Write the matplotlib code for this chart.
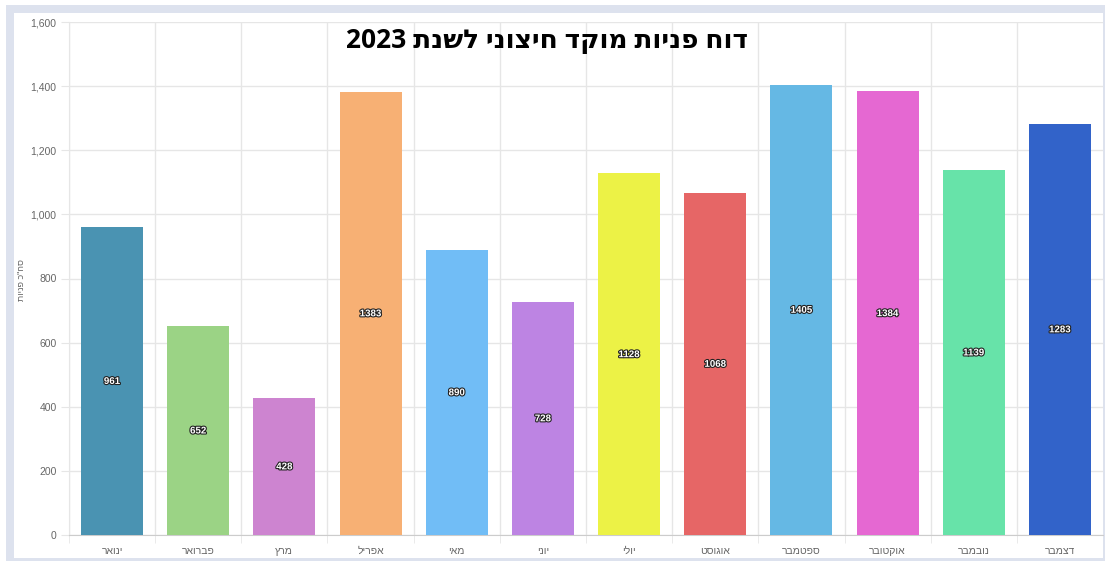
import matplotlib
matplotlib.use("Agg")
import matplotlib.pyplot as plt
import matplotlib.patheffects as pe
from matplotlib.patches import Rectangle
from matplotlib.ticker import FuncFormatter, FixedLocator
import numpy as np

plt.rcParams['font.family'] = ['Liberation Sans', 'DejaVu Sans']

months = ["ינואר", "פברואר", "מרץ", "אפריל", "מאי", "יוני",
          "יולי", "אוגוסט", "ספטמבר", "אוקטובר", "נובמבר", "דצמבר"]
values = [961, 652, 428, 1383, 890, 728, 1128, 1068, 1405, 1384, 1139, 1283]
colors = ["#4a93b2", "#9bd385", "#cd84d0", "#f7b074", "#71bdf6", "#bd84e3",
          "#ecf246", "#e66666", "#65b8e4", "#e568d2", "#67e3a9", "#3263c9"]
title = "דוח פניות מוקד חיצוני לשנת"
year = "2023"
ylabel = 'סה"כ פניות'


def vis(s):
    # matplotlib has no bidi support: reverse Hebrew for left-to-right drawing
    return s[::-1]


W, H = 1105, 561
fig = plt.figure(figsize=(W / 100, H / 100), dpi=100)
fig.patch.set_facecolor("white")
# outer frame
fig.patches.append(Rectangle((6 / W, 0), 1 - 6 / W, 1 - 5 / H, transform=fig.transFigure,
                             facecolor="#dde2ee", edgecolor="none", zorder=-10))
fig.patches.append(Rectangle((14 / W, 3 / H), (1103 - 14) / W, (548 - 3) / H,
                             transform=fig.transFigure, facecolor="white",
                             edgecolor="none", zorder=-9))

left, right, top, bottom = 69, 1103, 22, 535
ax = fig.add_axes([left / W, 1 - bottom / H, (right - left) / W, (bottom - top) / H])
ax.set_facecolor("none")

x = np.arange(len(months))
bars = ax.bar(x, values, width=0.72, color=colors, zorder=3)
for xi, v in zip(x, values):
    ax.text(xi, v / 2, str(v), ha="center", va="center", color="white",
            fontsize=7, fontweight="bold", zorder=4,
            path_effects=[pe.withStroke(linewidth=1.6, foreground="#222222")])

ax.set_xlim(-0.5, len(months) - 0.5)
ax.set_ylim(0, 1600)
ax.set_yticks(np.arange(0, 1601, 200))
ax.yaxis.set_major_formatter(FuncFormatter(lambda v, p: f"{int(v):,}"))
ax.set_xticks(x)
ax.set_xticklabels([vis(m) for m in months])
ax.xaxis.set_minor_locator(FixedLocator(np.arange(-0.5, len(months) - 0.5, 1)))

ax.grid(True, axis="y", which="major", color="#e6e6e6", linewidth=1, zorder=0)
ax.grid(True, axis="x", which="minor", color="#e6e6e6", linewidth=1, zorder=0)
ax.tick_params(axis="x", which="major", length=0, pad=8, labelsize=7.5, labelcolor="#666666")
ax.tick_params(axis="x", which="minor", length=6, color="#e6e6e6")
ax.tick_params(axis="y", which="major", length=6, color="#e6e6e6", pad=3,
               labelsize=7.5, labelcolor="#666666")
for s in ["top", "right"]:
    ax.spines[s].set_visible(False)
ax.spines["left"].set_color("#e6e6e6")
ax.spines["bottom"].set_color("#cccccc")

fig.text(22 / W, 1 - 280 / H, vis(ylabel), rotation=90, ha="center", va="center",
         fontsize=6.5, color="#666666")
fig.text(547 / W, 1 - 40 / H, year + " " + vis(title), ha="center", va="center",
         fontsize=19, fontweight="bold", color="black",
         family=["Open Sans", "DejaVu Sans"])

fig.savefig("out.png", dpi=100)
